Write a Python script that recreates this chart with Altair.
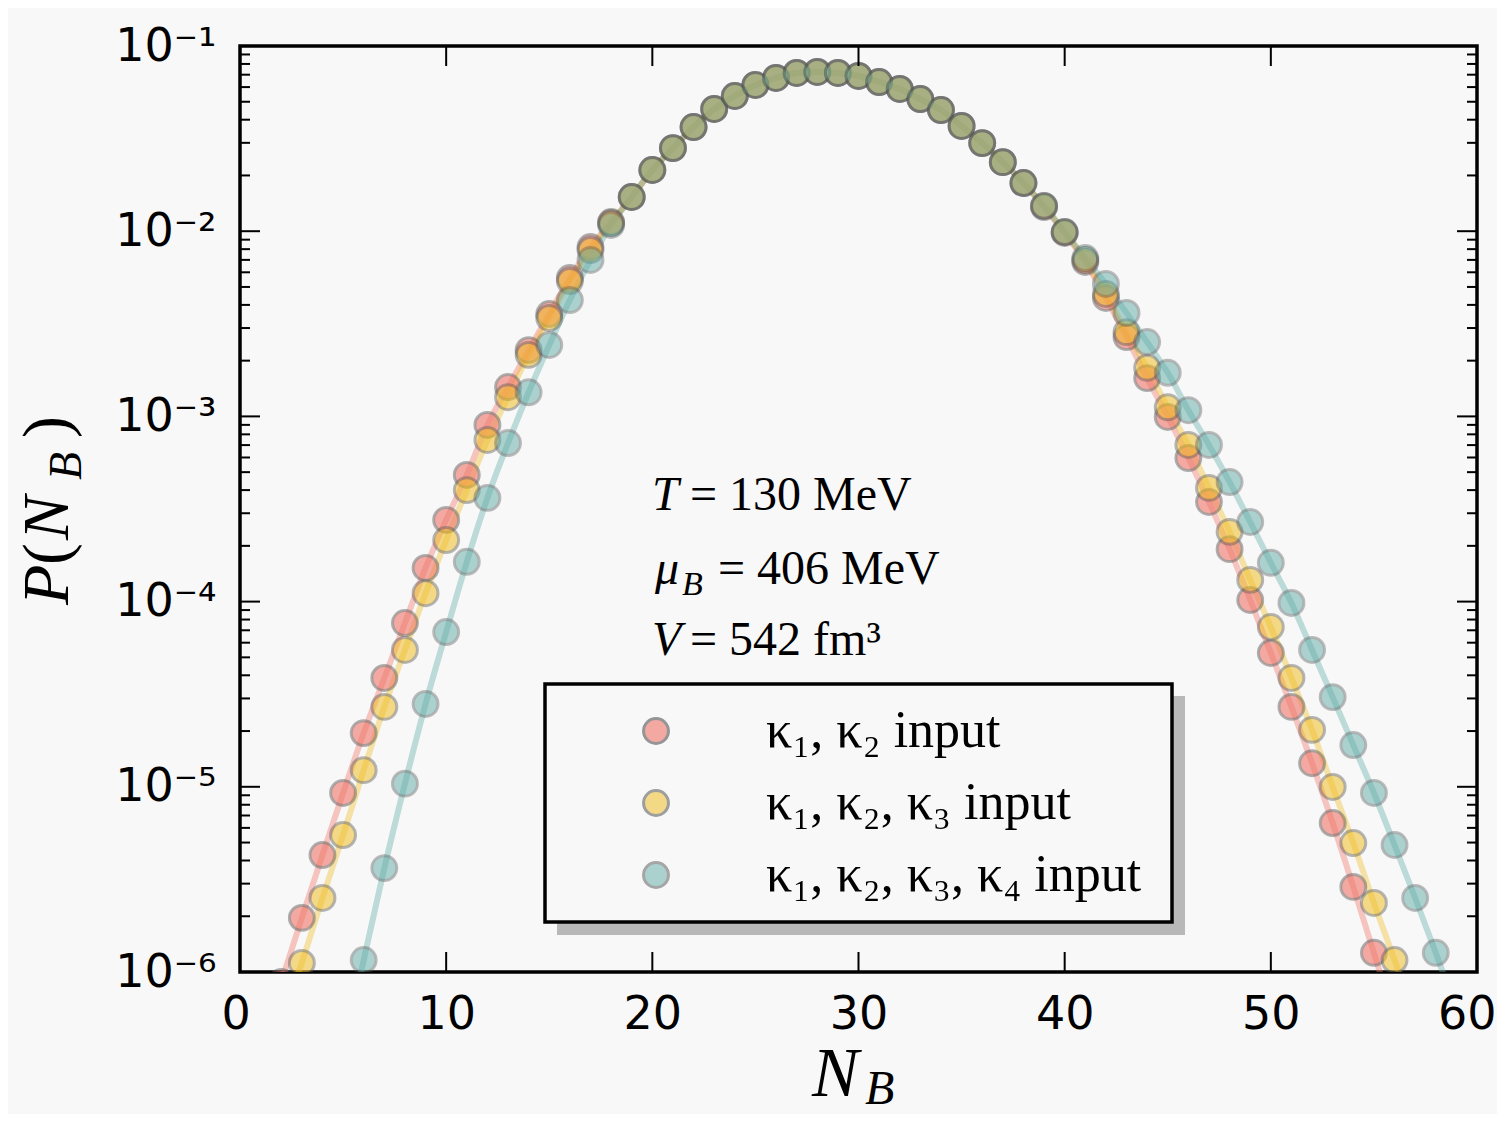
import altair as alt
import pandas as pd

# ---------------- data ----------------
N_red = list(range(2, 57))
P_red = [8.83e-7, 1.96e-6, 4.28e-6, 9.26e-6, 1.95e-5, 3.87e-5, 7.66e-5, 1.52e-4, 2.76e-4, 4.83e-4,
         8.99e-4, 1.44e-3, 2.28e-3, 3.57e-3, 5.59e-3, 8.21e-3, 1.121e-2, 1.53e-2, 2.14e-2, 2.81e-2,
         3.65e-2, 4.57e-2, 5.37e-2, 6.16e-2, 6.72e-2, 7.15e-2, 7.24e-2, 7.15e-2, 6.89e-2, 6.39e-2,
         5.86e-2, 5.17e-2, 4.51e-2, 3.70e-2, 2.99e-2, 2.36e-2, 1.82e-2, 1.35e-2, 9.78e-3, 6.82e-3,
         4.36e-3, 2.68e-3, 1.61e-3, 9.93e-4, 5.96e-4, 3.45e-4, 1.92e-4, 1.02e-4, 5.28e-5, 2.70e-5,
         1.34e-5, 6.37e-6, 2.88e-6, 1.27e-6, 5.51e-7]

N_yel = list(range(2, 58))
P_yel = [5.17e-7, 1.12e-6, 2.51e-6, 5.49e-6, 1.23e-5, 2.70e-5, 5.48e-5, 1.11e-4, 2.15e-4, 4.00e-4,
         7.46e-4, 1.27e-3, 2.15e-3, 3.40e-3, 5.38e-3, 7.91e-3, 1.107e-2, 1.53e-2, 2.14e-2, 2.81e-2,
         3.65e-2, 4.57e-2, 5.37e-2, 6.16e-2, 6.72e-2, 7.15e-2, 7.24e-2, 7.15e-2, 6.89e-2, 6.39e-2,
         5.86e-2, 5.17e-2, 4.51e-2, 3.70e-2, 2.99e-2, 2.36e-2, 1.82e-2, 1.37e-2, 9.90e-3, 6.99e-3,
         4.58e-3, 2.85e-3, 1.83e-3, 1.12e-3, 7.01e-4, 4.11e-4, 2.38e-4, 1.31e-4, 7.29e-5, 3.87e-5,
         2.03e-5, 9.98e-6, 4.97e-6, 2.36e-6, 1.16e-6, 5.37e-7]

N_teal = list(range(5, 60))
P_teal = [3.56e-7, 1.16e-6, 3.64e-6, 1.04e-5, 2.80e-5, 6.85e-5, 1.64e-4,
          3.63e-4, 7.18e-4, 1.35e-3, 2.43e-3, 4.25e-3, 6.99e-3, 1.08e-2, 1.53e-2, 2.14e-2, 2.81e-2,
          3.65e-2, 4.57e-2, 5.37e-2, 6.16e-2, 6.72e-2, 7.15e-2, 7.24e-2, 7.15e-2, 6.89e-2, 6.39e-2,
          5.86e-2, 5.17e-2, 4.51e-2, 3.70e-2, 2.99e-2, 2.36e-2, 1.82e-2, 1.37e-2, 9.90e-3, 7.16e-3,
          5.19e-3, 3.62e-3, 2.52e-3, 1.72e-3, 1.08e-3, 7.01e-4, 4.42e-4, 2.69e-4, 1.62e-4, 9.83e-5,
          5.48e-5, 3.05e-5, 1.68e-5, 9.26e-6, 4.85e-6, 2.51e-6, 1.27e-6, 6.23e-7]

series_names = ["κ₁, κ₂ input", "κ₁, κ₂, κ₃ input", "κ₁, κ₂, κ₃, κ₄ input"]
series_colors = ["#f0766a", "#f0be28", "#60aca8"]
series_alpha = [0.6, 0.5, 0.7]

x_ticks = [0, 10, 20, 30, 40, 50, 60]
y_major = [1e-6, 1e-5, 1e-4, 1e-3, 1e-2, 1e-1]
y_labels = ["10⁻⁶", "10⁻⁵", "10⁻⁴", "10⁻³", "10⁻²", "10⁻¹"]
y_minor = [k * 10.0 ** e for e in range(-6, -1) for k in range(2, 10)]

ann_lines = ["= 130 MeV", "= 406 MeV", "= 542 fm³"]

# ---------------- build tables ----------------
rows = []
for name, Ns, Ps in zip(series_names, [N_red, N_yel, N_teal], [P_red, P_yel, P_teal]):
    for n, p in zip(Ns, Ps):
        rows.append({"N": n, "P": p, "series": name, "order": series_names.index(name)})
df = pd.DataFrame(rows)

W, H = 1237, 926
BG = "#f8f8f8"

expr = "'" + y_labels[-1] + "'"
for v, lab in reversed(list(zip(y_major[:-1], y_labels[:-1]))):
    expr = f"datum.value < {v * 2} ? '{lab}' : " + expr

xscale = alt.Scale(domain=[0, 60], nice=False)
yscale = alt.Scale(type="log", domain=[1e-6, 1e-1], nice=False)
xaxis = alt.Axis(values=x_ticks, ticks=False, tickSize=0, domain=False, grid=False,
                 labelFont="DejaVu Sans", labelFontSize=46, labelPadding=20,
                 labelFlush=True, labelFlushOffset=19, labelOverlap=False, labelColor="black")
yaxis = alt.Axis(values=y_major, labelExpr=expr, ticks=False, tickSize=0, domain=False, grid=False,
                 labelFont="DejaVu Sans", labelFontSize=46, labelPadding=24,
                 labelOverlap=False, labelColor="black")
cscale = alt.Scale(domain=series_names, range=series_colors)
ascale = alt.Scale(domain=series_names, range=series_alpha)

legend = alt.Legend(orient="none", legendX=390, legendY=659, title=None,
                    padding=0, symbolType="circle", symbolSize=620,
                    symbolStrokeColor="#555555", symbolStrokeWidth=3,
                    symbolOffset=0, labelFont="Liberation Serif", labelFontSize=52,
                    labelColor="black", labelOffset=84, rowPadding=20,
                    labelLimit=800, zindex=2)

base = alt.Chart(df)

line_layers = []
for name, col in zip(series_names, series_colors):
    line_layers.append(
        base.transform_filter(alt.datum.series == name)
        .mark_line(color=col, strokeWidth=6, opacity=0.4, clip=True, interpolate="monotone")
        .encode(
            x=alt.X("N:Q", scale=xscale, axis=xaxis, title=None),
            y=alt.Y("P:Q", scale=yscale, axis=yaxis, title=None),
        )
    )

points = base.mark_circle(size=620, stroke="#555555", strokeWidth=3,
                          strokeOpacity=0.75, clip=True).encode(
    x=alt.X("N:Q", scale=xscale, axis=xaxis, title=None),
    y=alt.Y("P:Q", scale=yscale, axis=yaxis, title=None),
    color=alt.Color("series:N", scale=cscale, legend=legend),
    opacity=alt.Opacity("series:N", scale=ascale, legend=None),
    order="order:Q",
)

one = pd.DataFrame({"a": [0]})

shadow_r = alt.Chart(one).mark_rect(fill="#b8b8b8").encode(
    x=alt.value(933), x2=alt.value(945), y=alt.value(650), y2=alt.value(889))
shadow_b = alt.Chart(one).mark_rect(fill="#b8b8b8").encode(
    x=alt.value(317), x2=alt.value(945), y=alt.value(877), y2=alt.value(889))
box = alt.Chart(one).mark_rect(fill=BG, fillOpacity=0, stroke="black", strokeWidth=3.5).encode(
    x=alt.value(305), x2=alt.value(932), y=alt.value(638), y2=alt.value(876))


def txt(s, x, y, size=48, style="normal", angle=0):
    props = dict(font="Liberation Serif", fontSize=size, fontStyle=style, align="left",
                 baseline="alphabetic", color="black")
    if angle:
        props["angle"] = angle
    return alt.Chart(pd.DataFrame({"t": [s]})).mark_text(**props).encode(
        x=alt.value(x), y=alt.value(y), text="t:N")


texts = [
    txt("T", 412, 464, style="italic"),
    txt(ann_lines[0], 450, 464),
    txt("μ", 415, 538, style="italic"),
    txt("B", 442, 549, size=34, style="italic"),
    txt(ann_lines[1], 478, 538),
    txt("V", 412, 609, style="italic"),
    txt(ann_lines[2], 450, 609),
    # x title
    txt("N", 572, 1050, size=70, style="italic"),
    txt("B", 625, 1058, size=48, style="italic"),
    # y title (rotated)
    txt("P", -172, 559, size=66, style="italic", angle=270),
    txt("(", -172, 519, size=66, angle=270),
    txt("N", -172, 494, size=66, style="italic", angle=270),
    txt("B", -159, 434, size=46, style="italic", angle=270),
    txt(")", -172, 392, size=66, angle=270),
]

dfy_major = pd.DataFrame({"v": y_major})
dfy_minor = pd.DataFrame({"v": y_minor})
dfx = pd.DataFrame({"v": x_ticks})


def yticks(d, length):
    enc_y = alt.Y("v:Q", scale=yscale, axis=yaxis, title=None)
    left = alt.Chart(d).mark_rule(color="black", strokeWidth=2).encode(
        y=enc_y, x=alt.value(0), x2=alt.value(length))
    right = alt.Chart(d).mark_rule(color="black", strokeWidth=2).encode(
        y=enc_y, x=alt.value(W - length), x2=alt.value(W))
    return [left, right]


enc_x = alt.X("v:Q", scale=xscale, axis=xaxis, title=None)
xt_bottom = alt.Chart(dfx).mark_rule(color="black", strokeWidth=2).encode(
    x=enc_x, y=alt.value(H - 20), y2=alt.value(H))
xt_top = alt.Chart(dfx).mark_rule(color="black", strokeWidth=2).encode(
    x=enc_x, y=alt.value(0), y2=alt.value(20))

layers = (line_layers + [points, shadow_r, shadow_b, box] + texts + yticks(dfy_major, 20)
          + yticks(dfy_minor, 10) + [xt_bottom, xt_top])

chart = alt.layer(*layers).properties(
    width=W, height=H,
    padding={"left": 232, "top": 38, "right": 20, "bottom": 142},
    autosize=alt.AutoSizeParams(type="none"),
    background=BG,
).configure_view(stroke="black", strokeWidth=3.5)

chart.save("out.html", embed_options={"renderer": "svg", "actions": False})
